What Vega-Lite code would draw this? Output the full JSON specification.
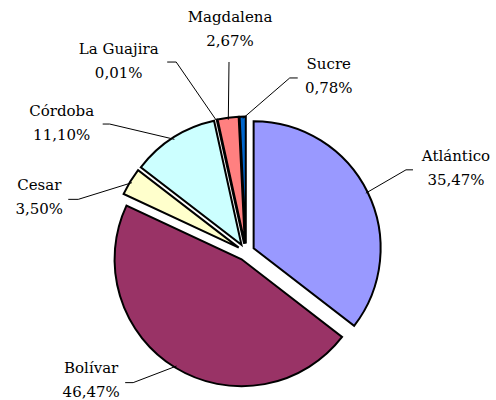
{
  "$schema": "https://vega.github.io/schema/vega-lite/v6.json",
  "width": 492,
  "height": 296,
  "autosize": {"type": "none"},
  "padding": {"left": 0, "top": 104, "right": 4, "bottom": 0},
  "background": "white",
  "config": {
    "view": {"stroke": null},
    "locale": {"number": {"decimal": ",", "thousands": ".", "grouping": [3], "currency": ["", ""]}},
    "text": {"font": "DejaVu Serif", "fontSize": 15, "fill": "black"}
  },
  "params": [
    {"name": "nx", "value": {"Atlántico": 17, "Bolívar": -43, "Cesar": -23, "Córdoba": -69, "La Guajira": -81, "Magdalena": 12.5, "Sucre": 88}},
    {"name": "ny", "value": {"Atlántico": 11, "Bolívar": -56, "Cesar": 57, "Córdoba": 52, "La Guajira": 18.5, "Magdalena": -9.4, "Sucre": 39.4}},
    {"name": "kx", "value": {"Atlántico": -50, "Bolívar": 42, "Cesar": 39, "Córdoba": 48, "La Guajira": 57.5, "Magdalena": -1, "Sucre": -39}},
    {"name": "ky", "value": {"Atlántico": 1.6, "Bolívar": 3, "Cesar": 2, "Córdoba": 1.5, "La Guajira": 1.5, "Magdalena": 32.5, "Sucre": 1.5}},
    {"name": "hx", "value": {"Atlántico": 7, "Bolívar": -8, "Cesar": -10, "Córdoba": -7, "La Guajira": -9, "Magdalena": 0, "Sucre": 8}}
  ],
  "data": {
    "values": [
      {"region": "Atlántico", "share": 0.3547},
      {"region": "Bolívar", "share": 0.4647},
      {"region": "Cesar", "share": 0.0350},
      {"region": "Córdoba", "share": 0.1110},
      {"region": "La Guajira", "share": 0.0001},
      {"region": "Magdalena", "share": 0.0267},
      {"region": "Sucre", "share": 0.0078}
    ]
  },
  "layer": [
    {
      "mark": {
        "type": "arc",
        "radius": 127,
        "stroke": "black",
        "strokeWidth": 2,
        "xOffset": {"expr": "8.5*sin(PI*(datum.share_start+datum.share_end))"},
        "yOffset": {"expr": "-8.5*cos(PI*(datum.share_start+datum.share_end))"}
      },
      "encoding": {
        "theta": {"field": "share", "type": "quantitative", "stack": true},
        "order": {"field": "region", "type": "ordinal", "sort": "ascending"},
        "color": {
          "field": "region",
          "type": "nominal",
          "scale": {
            "domain": ["Atlántico", "Bolívar", "Cesar", "Córdoba", "La Guajira", "Magdalena", "Sucre"],
            "range": ["#9999FF", "#993366", "#FFFFCC", "#CCFFFF", "#660066", "#FF8080", "#0066CC"]
          },
          "legend": null
        }
      }
    },
    {
      "mark": {
        "type": "text",
        "radius": 215,
        "align": "center",
        "baseline": "middle",
        "dx": {"expr": "nx[datum.region]"},
        "dy": {"expr": "ny[datum.region]-12"}
      },
      "encoding": {
        "theta": {"field": "share", "type": "quantitative", "stack": true},
        "order": {"field": "region", "type": "ordinal", "sort": "ascending"},
        "text": {"field": "region", "type": "nominal"}
      }
    },
    {
      "mark": {
        "type": "text",
        "radius": 215,
        "align": "center",
        "baseline": "middle",
        "dx": {"expr": "nx[datum.region]"},
        "dy": {"expr": "ny[datum.region]+12"}
      },
      "encoding": {
        "theta": {"field": "share", "type": "quantitative", "stack": true},
        "order": {"field": "region", "type": "ordinal", "sort": "ascending"},
        "text": {"field": "share", "type": "quantitative", "format": ".2%"}
      }
    },
    {
      "transform": [
        {"window": [{"op": "sum", "field": "share", "as": "cum"}], "sort": [{"field": "region", "order": "ascending"}]}
      ],
      "mark": {"type": "rule", "color": "black", "strokeWidth": 1},
      "encoding": {
        "x": {"value": {"expr": "width/2+133.5*sin(2*PI*(datum.cum-datum.share/2))"}},
        "y": {"value": {"expr": "height/2-133.5*cos(2*PI*(datum.cum-datum.share/2))"}},
        "x2": {"value": {"expr": "width/2+215*sin(2*PI*(datum.cum-datum.share/2))+nx[datum.region]+kx[datum.region]"}},
        "y2": {"value": {"expr": "height/2-215*cos(2*PI*(datum.cum-datum.share/2))+ny[datum.region]+ky[datum.region]"}}
      }
    },
    {
      "transform": [
        {"window": [{"op": "sum", "field": "share", "as": "cum"}], "sort": [{"field": "region", "order": "ascending"}]}
      ],
      "mark": {"type": "rule", "color": "black", "strokeWidth": 1},
      "encoding": {
        "x": {"value": {"expr": "width/2+215*sin(2*PI*(datum.cum-datum.share/2))+nx[datum.region]+kx[datum.region]"}},
        "y": {"value": {"expr": "height/2-215*cos(2*PI*(datum.cum-datum.share/2))+ny[datum.region]+ky[datum.region]"}},
        "x2": {"value": {"expr": "width/2+215*sin(2*PI*(datum.cum-datum.share/2))+nx[datum.region]+kx[datum.region]+hx[datum.region]"}},
        "y2": {"value": {"expr": "height/2-215*cos(2*PI*(datum.cum-datum.share/2))+ny[datum.region]+ky[datum.region]"}}
      }
    }
  ]
}
